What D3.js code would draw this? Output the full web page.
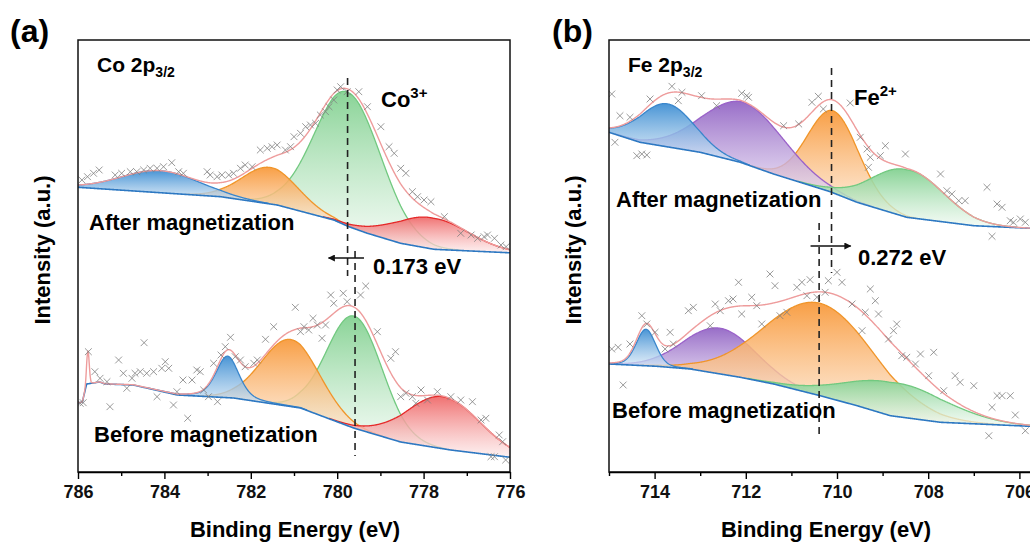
<!DOCTYPE html>
<html>
<head>
<meta charset="utf-8">
<script src="https://cdn.jsdelivr.net/npm/d3@7"></script>
<style>
  body { margin: 0; background: #fff; }
  svg { display: block; font-family: "Liberation Sans", Arial, sans-serif; font-weight: bold; }
</style>
</head>
<body>
<svg id="chart" width="1030" height="543"></svg>
<script>
// ---------- data: Co 2p3/2 (panel a) ----------
// points are [binding energy (eV), intensity (a.u.)]
const coTicks = [786, 784, 782, 780, 778, 776];
const coMinorTicks = [785, 783, 781, 779, 777];

const coAfterPoints = [
  [785.91, 292], [785.78, 295.3], [785.64, 298.7], [785.51, 302], [785.14, 297], [784.99, 298.7],
  [784.79, 300.3], [784.64, 300.3], [784.48, 302], [784.33, 303.7], [784.17, 303.7], [784.02, 305.3],
  [783.83, 309.3], [783.67, 300.3], [783.56, 298.7], [783.01, 300.3], [782.94, 297], [782.78, 295.3],
  [782.67, 297], [782.51, 297], [782.4, 298.7], [782.24, 303.7], [782.13, 307], [781.97, 305.3],
  [781.78, 322], [781.62, 323.7], [781.51, 325.3], [781.39, 327], [781.2, 322], [781.08, 325.3],
  [781.0, 335.3], [780.85, 338.7], [780.73, 345.3], [780.62, 347], [780.5, 348.7], [780.39, 357],
  [780.27, 360.3], [780.19, 365.3], [780.08, 372], [780.0, 382], [779.92, 385.3], [779.77, 380.3],
  [779.5, 380.3], [779.3, 365.3], [778.99, 345.3], [778.8, 325.3], [778.68, 318.7], [778.53, 303.7],
  [778.41, 298.7], [778.26, 280.3], [778.14, 275.3], [777.99, 272], [777.83, 270.3], [777.52, 255.3],
  [777.14, 238.7], [776.9, 237], [776.75, 233.7], [776.6, 235.3], [776.52, 237], [776.36, 233.7],
  [776.21, 227], [776.09, 225.3]
];
const coAfterBackground = [
  [786, 284.7], [782.7, 275.3], [781.39, 267], [780.08, 252], [779.73, 245.3], [779.3, 238.7],
  [778.53, 228.7], [777.76, 222.7], [776.05, 219.3], [776, 219.2]
];
const coAfterPeaks = [
  { name: "sat", center: 784.1, height: 22, fwhm: 2.1, eta: 0 },
  { name: "Co2+", center: 781.55, height: 36.5, fwhm: 1.53, eta: 0 },
  { name: "Co3+", center: 779.76, height: 134, fwhm: 1.81, eta: 0 },
  { name: "Co0", center: 777.83, height: 31, fwhm: 2.0, eta: 0 }
];

const coBeforePoints = [
  [785.95, 68.7], [785.88, 69.3], [785.76, 120.3], [785.61, 100.3], [785.49, 93.7], [785.33, 90.3],
  [785.26, 65.3], [785.06, 112], [784.95, 98.7], [784.87, 83.7], [784.75, 93.7], [784.68, 98.7],
  [784.56, 100.3], [784.47, 129.3], [784.41, 98.7], [784.25, 100.3], [784.17, 75.3], [784.06, 103.7],
  [783.98, 110.3], [783.9, 103.7], [783.79, 67], [783.71, 80.3], [783.57, 92], [783.46, 53.7],
  [783.36, 92], [783.25, 102], [783.17, 100.3], [783.09, 82], [782.98, 75.3], [782.86, 108.7],
  [782.77, 70.3], [782.69, 117], [782.59, 125.3], [782.47, 134.7], [782.36, 115.3], [782.24, 112],
  [782.13, 105.3], [781.93, 108.7], [781.85, 112], [781.66, 132.7], [781.47, 145.3], [780.97, 164.7],
  [780.85, 140.3], [780.77, 145.3], [780.66, 142], [780.56, 153.7], [780.46, 147], [780.35, 133.7],
  [780.27, 147], [780.15, 177], [780.08, 168.7], [779.86, 178.7], [779.77, 170.3], [779.46, 177],
  [779.34, 186], [779.07, 140.3], [778.76, 113.7], [778.65, 120.3], [778.53, 75.3], [778.41, 78.7],
  [778.26, 75.3], [778.18, 68.7], [778.06, 82], [777.91, 72], [777.68, 80.3], [777.37, 75.3],
  [777.14, 72], [776.87, 70.3], [776.67, 52], [776.56, 53.7], [776.44, 15.3], [776.36, 15.3],
  [776.25, 37], [776.17, 30.3], [776.1, 12]
];
const coBeforeBackground = [
  [786, 69], [785.9, 70], [785.8, 88], [785.5, 90], [785.37, 88], [784.72, 87], [783.7, 77],
  [782.4, 74], [780.85, 64], [779.62, 44], [778.53, 30], [777.37, 22], [776.05, 15], [776, 14.8]
];
const coBeforePeaks = [
  { name: "sat", center: 782.54, height: 41.5, fwhm: 0.62, eta: 0.35 },
  { name: "Co2+", center: 781.08, height: 67, fwhm: 1.58, eta: 0 },
  { name: "Co3+", center: 779.6, height: 112, fwhm: 1.5, eta: 0 },
  { name: "Co0", center: 777.55, height: 52, fwhm: 2.0, eta: 0 },
  { name: "spike", center: 785.77, height: 33, fwhm: 0.07, eta: 0 }
];
const coShift = { after: 779.76, before: 779.587, label: "0.173 eV" };

// ---------- data: Fe 2p3/2 (panel b) ----------
const feTicks = [714, 712, 710, 708, 706];
const feMinorTicks = [715, 713, 711, 709, 707, 705];

const feAfterPoints = [
  [714.94, 378], [714.87, 329.7], [714.76, 356.3], [714.54, 354.7], [714.39, 316.3], [714.28, 318],
  [714.17, 317], [714.1, 373], [713.62, 385.7], [713.48, 371.3], [713.4, 379.7], [712.97, 376.3],
  [712.64, 366.3], [712.09, 378.7], [711.98, 376.3], [711.94, 374.7], [711.17, 346.3], [710.84, 348],
  [710.55, 369.7], [710.41, 375.7], [710.3, 363], [709.71, 369], [709.49, 334.7], [709.34, 323],
  [709.31, 304.7], [709.27, 314.7], [709.05, 316.3], [708.94, 326.3], [708.5, 318], [707.73, 298],
  [707.59, 281.3], [707.48, 278], [707.33, 271.3], [707.19, 271.3], [706.71, 284.7], [706.6, 235.7],
  [706.49, 268], [706.38, 264.7], [706.2, 251.3], [706.13, 249.7], [705.98, 253], [705.87, 249.7]
];
const feAfterBackground = [
  [715, 339.7], [714.32, 329.7], [713, 319.7], [712.12, 309.7], [711.39, 298], [710.15, 280.3],
  [709.56, 269.7], [708.47, 254.7], [707, 246.3], [705.76, 243.7], [705, 243]
];
const feAfterPeaks = [
  { name: "sat", center: 713.72, height: 43, fwhm: 1.4, eta: 0 },
  { name: "Fe3+", center: 712.05, height: 61, fwhm: 2.1, eta: 0 },
  { name: "Fe2+", center: 710.08, height: 82, fwhm: 1.32, eta: 0 },
  { name: "Fe0", center: 708.45, height: 47.5, fwhm: 1.85, eta: 0 }
];

const feBeforePoints = [
  [714.94, 123], [714.8, 124.7], [714.69, 87], [714.54, 128], [714.28, 156.3], [714.17, 148],
  [713.99, 139.7], [713.77, 123], [713.66, 139.7], [713.59, 128], [713.26, 161.3], [713.15, 164.7],
  [712.78, 146.3], [712.67, 168], [712.56, 161.3], [712.38, 171.3], [712.28, 173], [712.16, 189.7],
  [712.09, 158], [711.87, 174.7], [711.76, 166.3], [711.65, 148], [711.47, 198], [711.36, 186.3],
  [711.25, 156.3], [711.1, 159.7], [710.88, 184.7], [710.77, 189.7], [710.66, 176.3], [710.59, 192.3],
  [710.44, 174.7], [710.26, 179.7], [710.19, 191.3], [710.0, 199.7], [709.89, 189.7], [709.67, 168],
  [709.45, 141.3], [709.38, 159.7], [709.27, 183], [709.16, 171.3], [709.09, 158], [708.87, 133],
  [708.76, 141.3], [708.69, 148], [708.58, 116.3], [708.47, 114.7], [708.28, 108], [708.17, 118],
  [707.99, 96.3], [707.88, 119.7], [707.66, 81.3], [707.41, 96.3], [707.3, 89.7], [707.0, 86.3],
  [706.67, 36.3], [706.6, 64.7], [706.49, 76.3], [706.38, 76.3], [706.2, 76.3], [706.09, 57],
  [705.87, 41.3]
];
const feBeforeBackground = [
  [715, 108], [713.95, 105.7], [713.22, 103], [712.12, 94.7], [711.39, 88], [710.37, 76.3],
  [709.56, 66.3], [708.83, 56.3], [707.73, 49.7], [705.76, 45.7], [705, 45]
];
const feBeforePeaks = [
  { name: "sat", center: 714.19, height: 36.5, fwhm: 0.5, eta: 0.2 },
  { name: "Fe3+", center: 712.56, height: 45.7, fwhm: 1.84, eta: 0 },
  { name: "Fe2+", center: 710.37, height: 92.4, fwhm: 2.83, eta: 0 },
  { name: "Fe0", center: 708.69, height: 33.5, fwhm: 2.6, eta: 0 }
];
const feShift = { after: 710.12, before: 710.392, label: "0.272 eV" };

// ---------- styles ----------
const componentColors = {
  blue: { line: "#3a86cc", top: "#3f8fd3", bottom: "#e2eef9" },
  orange: { line: "#f0952a", top: "#f89a3c", bottom: "#fee9d6" },
  green: { line: "#72c980", top: "#83d191", bottom: "#f0faf2" },
  red: { line: "#e52a2a", top: "#ef6a6a", bottom: "#fdeaea" },
  purple: { line: "#9a62c9", top: "#9366c5", bottom: "#eee6f6" }
};
const envelopeColor = "#ee9c9c";
const backgroundColor = "#2d78c2";
const crossColor = "#7f7f7f";

const svg = d3.select("#chart");
const defs = svg.append("defs");

Object.entries(componentColors).forEach(([key, c]) => {
  const grad = defs.append("linearGradient")
    .attr("id", "grad-" + key)
    .attr("x1", 0).attr("y1", 0).attr("x2", 0).attr("y2", 1);
  grad.append("stop").attr("offset", "0%").attr("stop-color", c.top).attr("stop-opacity", 0.95);
  grad.append("stop").attr("offset", "100%").attr("stop-color", c.bottom).attr("stop-opacity", 0.7);
});

// arrowhead
defs.append("marker")
  .attr("id", "arrow")
  .attr("viewBox", "0 0 10 10")
  .attr("refX", 9).attr("refY", 5)
  .attr("markerWidth", 10).attr("markerHeight", 7)
  .attr("markerUnits", "userSpaceOnUse")
  .attr("orient", "auto")
  .append("path").attr("d", "M0,0L10,5L0,10Z").attr("fill", "#111");

// pseudo-Voigt line shape used for the fitted components
function peakValue(p, e) {
  const t = (e - p.center) / p.fwhm;
  const gauss = Math.exp(-4 * Math.LN2 * t * t);
  const lor = 1 / (1 + 4 * t * t);
  return p.height * ((1 - p.eta) * gauss + p.eta * lor);
}

function drawPanel(cfg) {
  const x = d3.scaleLinear().domain(cfg.domain).range([cfg.left, cfg.right]);
  const y = d3.scaleLinear().domain([0, 432]).range([cfg.bottom, cfg.top]);

  const clipId = "clip-" + cfg.id;
  defs.append("clipPath").attr("id", clipId)
    .append("rect")
    .attr("x", cfg.left).attr("y", cfg.top)
    .attr("width", cfg.right - cfg.left).attr("height", cfg.bottom - cfg.top);

  const g = svg.append("g");
  const plot = g.append("g").attr("clip-path", `url(#${clipId})`);

  const lo = Math.min(...cfg.domain), hi = Math.max(...cfg.domain);
  const grid = d3.range(lo, hi + 0.0001, 0.01);

  cfg.spectra.forEach(s => {
    const bg = d3.scaleLinear()
      .domain(s.background.map(d => d[0]))
      .range(s.background.map(d => d[1]))
      .clamp(true);

    // filled components, drawn in the order the original overlaps them
    s.order.forEach(name => {
      const p = s.peaks.find(d => d.name === name);
      const key = cfg.colorOf[name];
      const pts = grid.filter(e => peakValue(p, e) > 0.4).map(e => [e, bg(e), bg(e) + peakValue(p, e)]);
      plot.append("path")
        .datum(pts)
        .attr("fill", `url(#grad-${key})`)
        .attr("d", d3.area().x(d => x(d[0])).y0(d => y(d[1])).y1(d => y(d[2])));
      plot.append("path")
        .datum(pts)
        .attr("fill", "none")
        .attr("stroke", componentColors[key].line)
        .attr("stroke-width", 1.3)
        .attr("d", d3.line().x(d => x(d[0])).y(d => y(d[2])));
    });

    // background line
    plot.append("path")
      .datum(grid)
      .attr("fill", "none")
      .attr("stroke", backgroundColor)
      .attr("stroke-width", 1.6)
      .attr("d", d3.line().x(e => x(e)).y(e => y(bg(e))));

    // envelope = background + all components
    plot.append("path")
      .datum(grid)
      .attr("fill", "none")
      .attr("stroke", envelopeColor)
      .attr("stroke-width", 1.4)
      .attr("d", d3.line().x(e => x(e)).y(e => y(bg(e) + d3.sum(s.peaks, p => peakValue(p, e)))));

    // raw data crosses
    plot.append("g")
      .selectAll("path")
      .data(s.points)
      .join("path")
      .attr("transform", d => `translate(${x(d[0])},${y(d[1])})`)
      .attr("d", "M-3.4,-3.4L3.4,3.4M-3.4,3.4L3.4,-3.4")
      .attr("stroke", crossColor)
      .attr("stroke-width", 0.8);
  });

  // shift markers
  const dash = g.append("g").attr("stroke", "#222").attr("stroke-width", 1.6).attr("stroke-dasharray", "7,5");
  dash.append("line")
    .attr("x1", x(cfg.shift.after)).attr("x2", x(cfg.shift.after))
    .attr("y1", cfg.dashAfter[0]).attr("y2", cfg.dashAfter[1]);
  dash.append("line")
    .attr("x1", x(cfg.shift.before)).attr("x2", x(cfg.shift.before))
    .attr("y1", cfg.dashBefore[0]).attr("y2", cfg.dashBefore[1]);

  g.append("line")
    .attr("x1", x(cfg.arrow[0])).attr("x2", x(cfg.arrow[1]))
    .attr("y1", cfg.arrowY).attr("y2", cfg.arrowY)
    .attr("stroke", "#111").attr("stroke-width", 1.4)
    .attr("marker-end", "url(#arrow)");

  g.append("text")
    .attr("x", cfg.shiftLabel[0]).attr("y", cfg.shiftLabel[1])
    .attr("font-size", 22)
    .text(cfg.shift.label);

  // frame
  g.append("rect")
    .attr("x", cfg.left).attr("y", cfg.top)
    .attr("width", cfg.right - cfg.left).attr("height", cfg.bottom - cfg.top)
    .attr("fill", "none").attr("stroke", "#111").attr("stroke-width", 1.5);

  // x axis
  const axis = g.append("g")
    .attr("transform", `translate(0,${cfg.bottom})`)
    .call(d3.axisBottom(x).tickValues(cfg.ticks).tickSize(7).tickSizeOuter(0).tickPadding(6).tickFormat(d3.format("d")));
  axis.select(".domain").attr("stroke-width", 1.5);
  axis.selectAll(".tick line").attr("stroke-width", 1.4);
  axis.selectAll(".tick text")
    .attr("font-size", 18).attr("font-family", "Liberation Sans, Arial, sans-serif").attr("font-weight", "bold").attr("fill", "#111");
  const minor = g.append("g")
    .attr("transform", `translate(0,${cfg.bottom})`)
    .call(d3.axisBottom(x).tickValues(cfg.minorTicks).tickSize(4).tickFormat(""));
  minor.select(".domain").remove();
  minor.selectAll(".tick line").attr("stroke-width", 1.4);

  g.append("text")
    .attr("x", cfg.titleX).attr("y", 537)
    .attr("text-anchor", "middle").attr("font-size", 22)
    .text("Binding Energy (eV)");

  g.append("text")
    .attr("transform", `translate(${cfg.left - 28},250) rotate(-90)`)
    .attr("text-anchor", "middle").attr("font-size", 22)
    .text("Intensity (a.u.)");

  // panel letter
  g.append("text")
    .attr("x", cfg.letterX).attr("y", 42)
    .attr("font-size", 32)
    .text(cfg.letter);

  // element label with subscript
  const el = g.append("text")
    .attr("x", cfg.left + 19).attr("y", 72)
    .attr("font-size", 21);
  el.append("tspan").text(cfg.element + " 2p");
  el.append("tspan").attr("font-size", 14).attr("dy", 5).text("3/2");

  // oxidation state label with superscript
  const ox = g.append("text")
    .attr("x", cfg.ionLabel[0]).attr("y", cfg.ionLabel[1])
    .attr("font-size", 22);
  ox.append("tspan").text(cfg.element);
  ox.append("tspan").attr("font-size", 15).attr("dy", -9).text(cfg.ionCharge);

  g.append("text")
    .attr("x", cfg.afterLabel[0]).attr("y", cfg.afterLabel[1])
    .attr("font-size", 22)
    .text("After magnetization");
  g.append("text")
    .attr("x", cfg.beforeLabel[0]).attr("y", cfg.beforeLabel[1])
    .attr("font-size", 22)
    .text("Before magnetization");
}

drawPanel({
  id: "co", letter: "(a)", letterX: 10, element: "Co", ionCharge: "3+",
  domain: [786, 776], left: 78, right: 510, top: 40, bottom: 472, titleX: 295,
  ticks: coTicks, minorTicks: coMinorTicks,
  colorOf: { "sat": "blue", "Co2+": "orange", "Co3+": "green", "Co0": "red" },
  spectra: [
    { points: coAfterPoints, background: coAfterBackground, peaks: coAfterPeaks,
      order: ["Co3+", "Co2+", "Co0", "sat"] },
    { points: coBeforePoints, background: coBeforeBackground, peaks: coBeforePeaks,
      order: ["Co3+", "Co2+", "Co0", "sat"] }
  ],
  shift: coShift,
  dashAfter: [78, 276], dashBefore: [251, 456],
  arrow: [779.38, 780.2], arrowY: 258, shiftLabel: [373, 274],
  ionLabel: [381, 107], afterLabel: [89, 230], beforeLabel: [94, 442]
});

drawPanel({
  id: "fe", letter: "(b)", letterX: 552, element: "Fe", ionCharge: "2+",
  domain: [715, 705], left: 609, right: 1065, top: 40, bottom: 472, titleX: 826,
  ticks: feTicks, minorTicks: feMinorTicks,
  colorOf: { "sat": "blue", "Fe3+": "purple", "Fe2+": "orange", "Fe0": "green" },
  spectra: [
    { points: feAfterPoints, background: feAfterBackground, peaks: feAfterPeaks,
      order: ["Fe2+", "Fe3+", "sat", "Fe0"] },
    { points: feBeforePoints, background: feBeforeBackground, peaks: feBeforePeaks,
      order: ["Fe3+", "Fe2+", "Fe0", "sat"] }
  ],
  shift: feShift,
  dashAfter: [68, 273], dashBefore: [223, 434],
  arrow: [710.58, 709.7], arrowY: 246, shiftLabel: [858, 265],
  ionLabel: [854, 105], afterLabel: [616, 207], beforeLabel: [612, 418]
});
</script>
</body>
</html>
